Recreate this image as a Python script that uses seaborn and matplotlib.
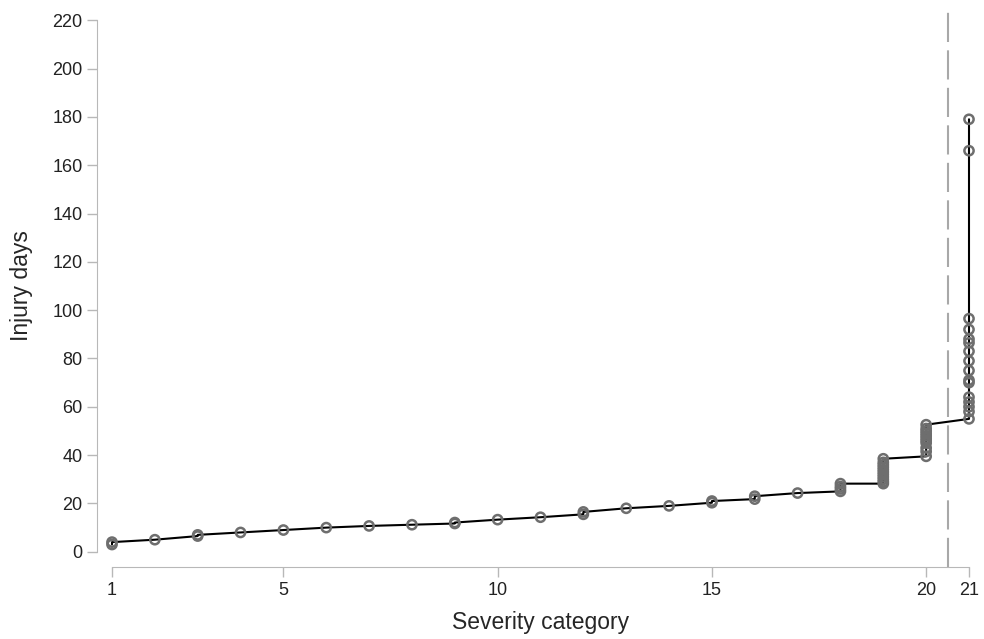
import matplotlib
matplotlib.use("Agg")
import matplotlib.pyplot as plt
import seaborn as sns
import pandas as pd

# injury days observed in each severity category (sorted)
severity_days = {
    1: [3, 4],
    2: [5],
    3: [6.5, 7],
    4: [8],
    5: [9],
    6: [10],
    7: [10.7],
    8: [11.2],
    9: [11.7, 12.1],
    10: [13.3],
    11: [14.3],
    12: [15.5, 16.5],
    13: [18],
    14: [19],
    15: [20.3, 21],
    16: [21.8, 23],
    17: [24.3],
    18: [25, 26, 27, 28.2],
    19: [28.2, 29, 30, 31, 32, 33, 34, 35, 36, 37, 38.5],
    20: [39.5, 41.5, 43, 45, 46, 47, 48, 49, 50, 51, 52.6],
    21: [55, 58, 60, 62, 64, 70, 71, 75, 79, 83, 86.5, 88, 92, 96.5, 166, 179],
}
x_ticks = [1, 5, 10, 15, 20, 21]
y_ticks = list(range(0, 221, 20))
cutoff = 20.5

rows = [(k, v) for k, vals in severity_days.items() for v in vals]
df = pd.DataFrame(rows, columns=["severity", "days"])

sns.set_style("ticks")
plt.rcParams["font.family"] = ["Liberation Sans", "DejaVu Sans"]

fig = plt.figure(figsize=(9.84, 6.39), dpi=100)
ax = fig.add_axes([97 / 984, 1 - 567 / 639, 1 - 97 / 984, (567 - 5) / 639])

sns.lineplot(data=df, x="severity", y="days", estimator=None, sort=False,
             color="black", linewidth=1.5, ax=ax, zorder=2)
sns.scatterplot(data=df, x="severity", y="days", marker="o", s=44,
                facecolors="none", edgecolor="#6e6e6e", linewidth=1.8,
                ax=ax, zorder=3)
ax.axvline(cutoff, color="#a8a8a8", linestyle=(0, (14, 4)), linewidth=1.5, zorder=1)

ax.set_xlim(0.65, 21.35)
ax.set_ylim(-6.3, 226.3)
ax.set_xticks(x_ticks)
ax.set_yticks(y_ticks)
ax.set_xlabel("Severity category", fontsize=16.5, labelpad=9)
ax.set_ylabel("Injury days", fontsize=16.5, labelpad=14)
ax.tick_params(colors="#b8b8b8", labelcolor="#222222", labelsize=13,
               length=7, width=1, pad=3.5)
for side in ["left", "bottom"]:
    ax.spines[side].set_color("#b8b8b8")
sns.despine(ax=ax, trim=True)

fig.savefig("out.png", dpi=100)
